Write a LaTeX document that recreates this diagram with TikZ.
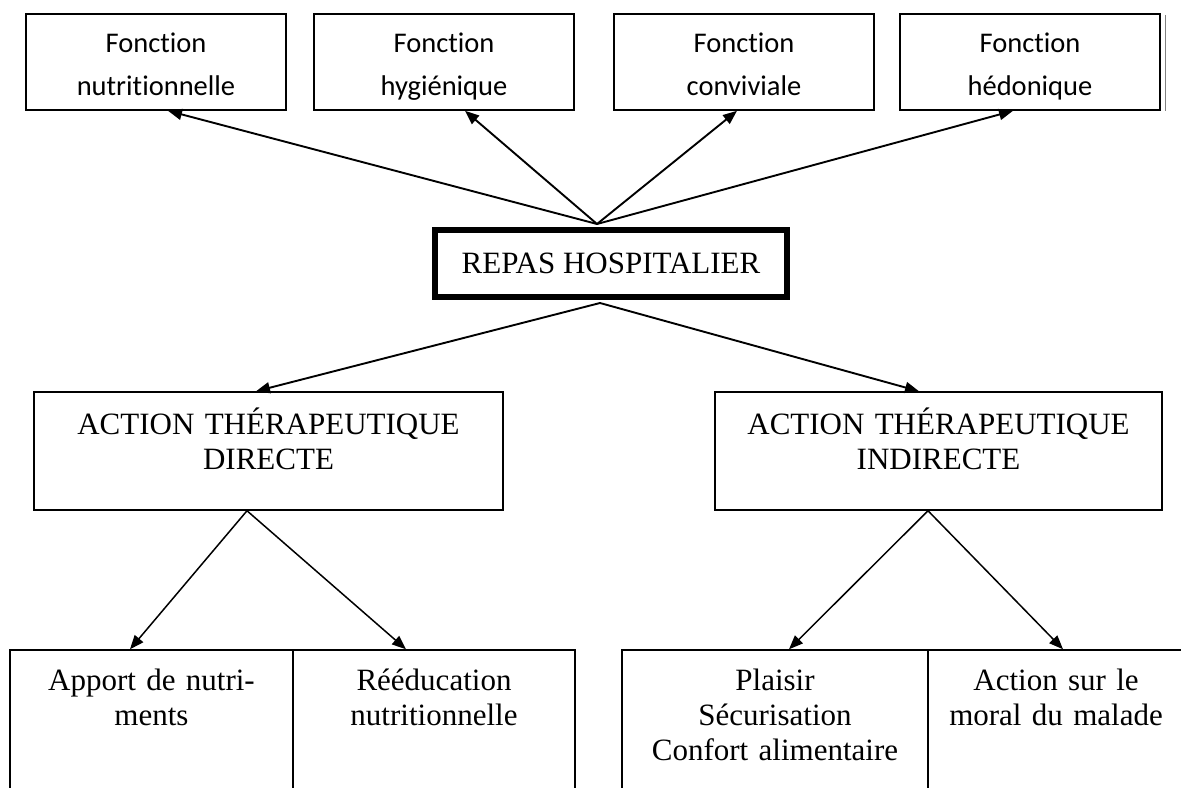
\documentclass[tikz,border=0pt]{standalone}
\usepackage{fontspec}
\setmainfont{Liberation Serif}
\newfontfamily\calib[Ligatures=NoCommon]{Carlito}
\usetikzlibrary{arrows.meta}
\begin{document}
\begin{tikzpicture}[x=0.5pt,y=-0.5pt,
  fbox/.style={draw, line width=0.8pt, minimum width=130pt, minimum height=48pt, inner sep=0pt},
  ftext/.style={anchor=base, text width=125pt, align=center, inner sep=0pt,
    font=\calib\fontsize{14.25pt}{21.5pt}\selectfont},
  sbox/.style={draw, line width=0.75pt, minimum height=59pt, inner sep=0pt},
  cell/.style={draw, line width=0.75pt, minimum height=85pt, inner sep=0pt},
  stext/.style={anchor=base, text width=150pt, align=center, inner sep=0pt,
    font=\fontsize{15.5pt}{17.5pt}\selectfont},
  arr/.style={-{Triangle[length=7pt,width=5.5pt]}, line width=0.95pt},
  arrthin/.style={-{Triangle[length=7pt,width=5.5pt]}, line width=0.75pt}]
\clip (0,0) rectangle (1181,787);
\fill[white] (0,0) rectangle (1181,787);

% the four functions of the meal
\node[fbox] (f1) at (156,62) {};
\node[fbox] (f2) at (444,62) {};
\node[fbox] (f3) at (744,62) {};
\node[fbox] (f4) at (1030,62) {};
\draw[gray, line width=0.6pt] ([xshift=2.3pt,yshift=-1pt]f4.north east) -- ([xshift=2.3pt]f4.south east);
\node[ftext] (t1) at (156,52) {Fonction\\nutritionnelle};
\node[ftext] (t2) at (444,52) {Fonction\\hygiénique};
\node[ftext] (t3) at (744,52) {Fonction\\conviviale};
\node[ftext] (t4) at (1030,52) {Fonction\\hédonique};

% central box
\node[draw, line width=3pt, minimum width=176pt, minimum height=33.5pt, inner sep=0pt,
  font=\fontsize{15.5pt}{17.5pt}\selectfont, text depth=0pt] (repas) at (611,263.5) {REPAS HOSPITALIER};

\draw[arr] ([xshift=-7pt,yshift=1.5pt]repas.north) -- ([xshift=6pt]f1.south);
\draw[arr] ([xshift=-7pt,yshift=1.5pt]repas.north) -- ([xshift=10.5pt]f2.south);
\draw[arr] ([xshift=-7pt,yshift=1.5pt]repas.north) -- ([xshift=-3.5pt]f3.south);
\draw[arr] ([xshift=-7pt,yshift=1.5pt]repas.north) -- ([xshift=-8.5pt]f4.south);

% therapeutic actions
\node[sbox, minimum width=234.5pt] (ad) at (268.5,451) {};
\node[sbox, minimum width=223.5pt] (ai) at (938.5,451) {};
\node[stext, text width=230pt] (tad) at (268.5,434) {ACTION THÉRAPEUTIQUE\\DIRECTE};
\node[stext, text width=220pt] (tai) at (938.5,434) {ACTION THÉRAPEUTIQUE\\INDIRECTE};

\draw[arr] ([xshift=-5.5pt,yshift=-1.5pt]repas.south) -- ([xshift=-6.25pt]ad.north);
\draw[arr] ([xshift=-5.5pt,yshift=-1.5pt]repas.south) -- ([xshift=-9.75pt]ai.north);

% effects
\node[cell, minimum width=141.5pt] (b1) at (151.5,735) {};
\node[cell, minimum width=141pt] (b2) at (434,735) {};
\node[cell, minimum width=153pt] (b3) at (775,735) {};
\node[cell, minimum width=128pt] (b4) at (1056,735) {};
\node[stext, text width=138pt] (tb1) at (151.5,690) {Apport de nutri-\\ments};
\node[stext, text width=138pt] (tb2) at (434,690) {Rééducation\\nutritionnelle};
\node[stext, text width=150pt] (tb3) at (775,690) {Plaisir\\Sécurisation\\Confort alimentaire};
\node[stext, text width=126pt] (tb4) at (1056,690) {Action sur le\\moral du malade};

\draw[arrthin] ([xshift=-10.75pt]ad.south) -- ([xshift=-10.75pt]b1.north);
\draw[arrthin] ([xshift=-10.75pt]ad.south) -- ([xshift=-14pt]b2.north);
\draw[arrthin] ([xshift=-5.25pt]ai.south) -- ([xshift=7pt]b3.north);
\draw[arrthin] ([xshift=-5.25pt]ai.south) -- ([xshift=3.5pt]b4.north);
\end{tikzpicture}
\end{document}
